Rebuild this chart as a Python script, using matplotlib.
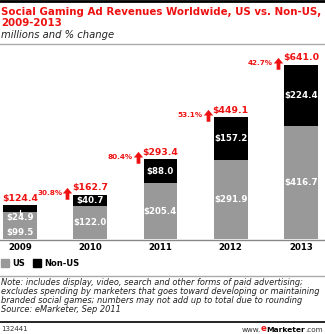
import matplotlib.pyplot as plt
from matplotlib.patches import Rectangle
from matplotlib.lines import Line2D
from matplotlib.path import Path
from matplotlib.transforms import offset_copy

# === data ===
years = ["2009", "2010", "2011", "2012", "2013"]
us = [99.5, 122.0, 205.4, 291.9, 416.7]
non_us = [24.9, 40.7, 88.0, 157.2, 224.4]
totals = [124.4, 162.7, 293.4, 449.1, 641.0]
pct_change = [None, "30.8%", "80.4%", "53.1%", "42.7%"]

RED = "#ee1111"
GRAY = "#999999"
W, H = 325, 334


def fx(px):
    return px / W


def fy(py):
    return 1 - py / H


fig = plt.figure(figsize=(3.25, 3.34), dpi=100)
fig.patch.set_facecolor("white")

# === header ===
fig.add_artist(Line2D([0, 1], [fy(1), fy(1)], color="black", lw=2))
fig.text(fx(1), fy(12), "Social Gaming Ad Revenues Worldwide, US vs. Non-US,",
         color=RED, fontsize=7.35, fontweight="bold", va="center")
fig.text(fx(1), fy(23), "2009-2013", color=RED, fontsize=7.35,
         fontweight="bold", va="center")
fig.text(fx(1), fy(35), "millions and % change", fontsize=7.2,
         style="italic", va="center", color="#222222")
fig.add_artist(Line2D([0, 1], [fy(44), fy(44)], color="#aaaaaa", lw=1))

# === bars ===
base_px, top_px = 239, 50
ax = fig.add_axes([0, fy(base_px), 1, (base_px - top_px) / H])
ax.set_xlim(-0.285, 4.342)
ax.set_ylim(0, 696)
ax.axis("off")

x = list(range(len(years)))
bw = 0.484
ax.bar(x, us, width=bw, color=GRAY, edgecolor="none")
ax.bar(x, non_us, width=bw, bottom=us, color="black", edgecolor="none")

# up arrow shape for % change
arrow = Path([(-0.3, -1), (0.3, -1), (0.3, 0), (0.75, 0), (0, 0.9),
              (-0.75, 0), (-0.3, 0), (-0.3, -1)], closed=True)

lab = dict(color="white", fontsize=6.2, fontweight="bold", ha="center", va="center")
for i in x:
    if i == 0:
        ax.annotate(f"${non_us[i]}", (i, us[i]), xytext=(0, -6),
                    textcoords="offset pixels", **lab)
        ax.annotate(f"${us[i]}", (i, 0), xytext=(0, 7),
                    textcoords="offset pixels", **lab)
        ax.plot([i, i], [us[i] - 12, us[i] + 8], color="white", lw=0.8)
    else:
        ax.text(i, us[i] / 2, f"${us[i]}", **lab)
        ax.text(i, us[i] + non_us[i] / 2, f"${non_us[i]}", **lab)
    ax.annotate(f"${totals[i]}", (i, totals[i]), xytext=(0, 7),
                textcoords="offset pixels", color=RED, fontsize=6.7,
                fontweight="bold", ha="center", va="center")
    if pct_change[i]:
        ax.annotate(pct_change[i], (i - bw / 2, totals[i]), xytext=(-11, 2),
                    textcoords="offset pixels", color=RED, fontsize=5.2,
                    fontweight="bold", ha="right", va="center")
        tr = offset_copy(ax.transData, fig=fig, x=-6, y=2, units="dots")
        ax.plot([i - bw / 2], [totals[i]], marker=arrow, markersize=9,
                color=RED, markeredgewidth=0, transform=tr, clip_on=False)

fig.add_artist(Line2D([0, 1], [fy(239.5), fy(239.5)], color="#888888", lw=1))
for i, yr in enumerate(years):
    xp = 20 + i * 70.25
    fig.text(fx(xp), fy(248), yr, fontsize=6.2, fontweight="bold",
             ha="center", va="center")

# === legend ===
fig.add_artist(Rectangle((fx(1), fy(267)), 8 / W, 8 / H, color=GRAY,
                         transform=fig.transFigure))
fig.text(fx(12), fy(263), "US", fontsize=6.0, fontweight="bold", va="center")
fig.add_artist(Rectangle((fx(33), fy(267)), 8 / W, 8 / H, color="black",
                         transform=fig.transFigure))
fig.text(fx(44), fy(263), "Non-US", fontsize=6.0, fontweight="bold", va="center")

# === footer ===
fig.add_artist(Line2D([0, 1], [fy(276), fy(276)], color="#aaaaaa", lw=1))
note = ("Note: includes display, video, search and other forms of paid advertising;\n"
        "excludes spending by marketers that goes toward developing or maintaining\n"
        "branded social games; numbers may not add up to total due to rounding\n"
        "Source: eMarketer, Sep 2011")
fig.text(fx(1), fy(278), note, fontsize=5.95, style="italic", va="top",
         linespacing=1.02, color="#222222")
fig.add_artist(Line2D([0, 1], [fy(322), fy(322)], color="black", lw=1.2))
fig.text(fx(1), fy(329), "132441", fontsize=5, va="center", color="#333333")

# logo, chained right to left
com = fig.text(fx(323), fy(332), ".com", fontsize=5.2, ha="right",
               va="baseline", color="#333333")
mk = plt.annotate("Marketer", xy=(0, 0), xycoords=com, ha="right", va="bottom",
                  fontsize=5.4, fontweight="bold", color="black",
                  annotation_clip=False)
e = plt.annotate("e", xy=(0, 0), xycoords=mk, ha="right", va="bottom",
                 fontsize=6.2, fontweight="bold", color=RED,
                 annotation_clip=False)
plt.annotate("www.", xy=(0, 0), xycoords=e, ha="right", va="bottom",
             fontsize=5.2, color="#333333", annotation_clip=False)

fig.savefig("out.png", dpi=100)
